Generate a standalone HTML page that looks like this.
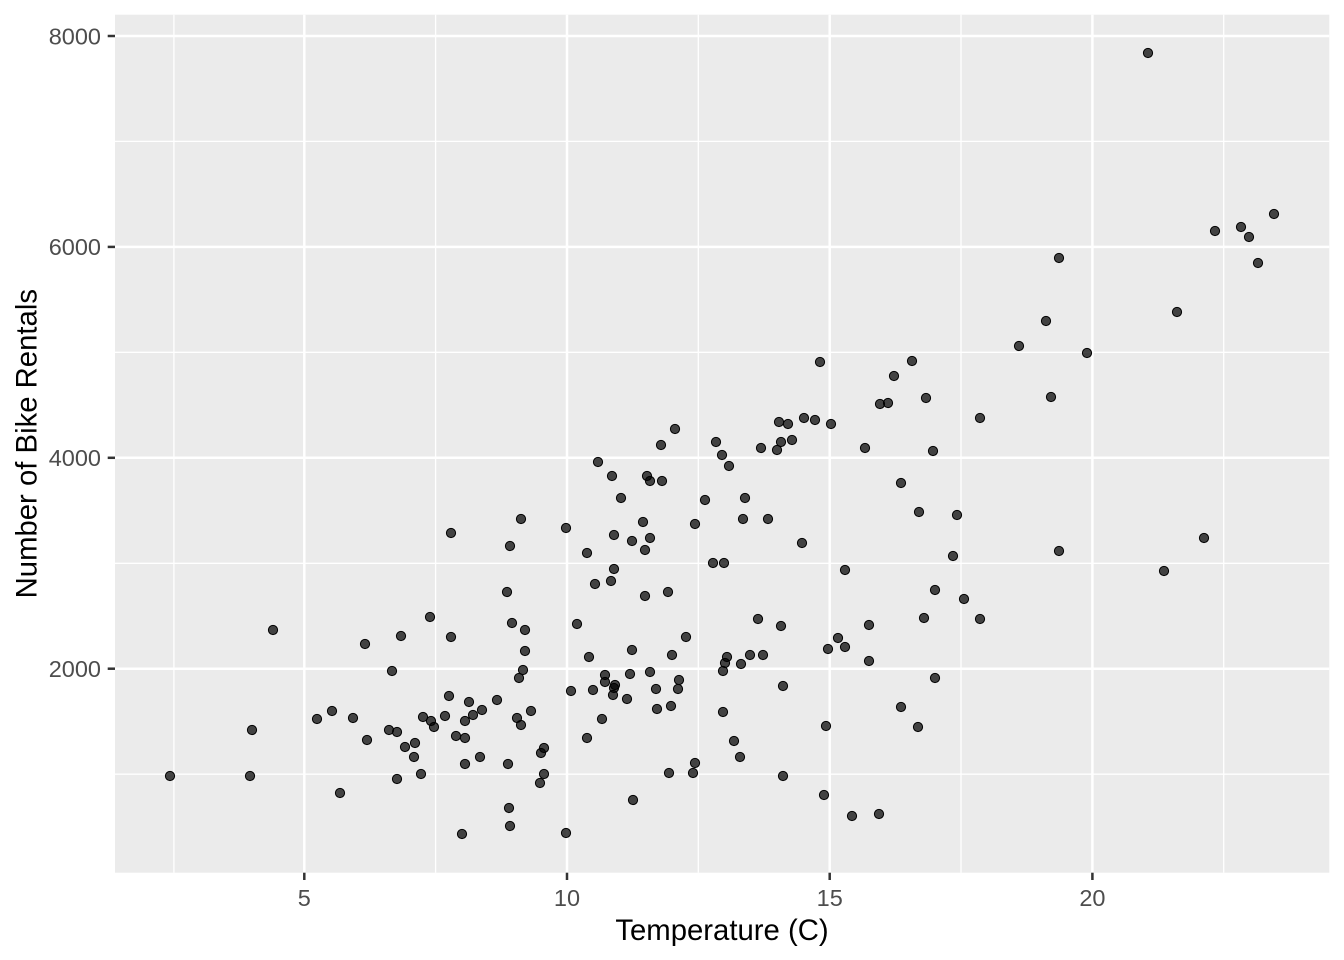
<!DOCTYPE html>
<html>
<head>
<meta charset="utf-8">
<style>
html,body{margin:0;padding:0;background:#fff;}
svg{display:block;}
text{font-family:"Liberation Sans",Arial,sans-serif;}
</style>
</head>
<body>
<svg width="1344" height="960" viewBox="0 0 1344 960" xmlns="http://www.w3.org/2000/svg">
<rect x="0" y="0" width="1344" height="960" fill="#fff"/>
<rect x="115" y="14.7" width="1214.3" height="858" fill="#EBEBEB"/>
<g stroke="#fff" stroke-width="1.3">
<line x1="115" x2="1329.3" y1="774.2" y2="774.2"/>
<line x1="115" x2="1329.3" y1="563.3" y2="563.3"/>
<line x1="115" x2="1329.3" y1="352.3" y2="352.3"/>
<line x1="115" x2="1329.3" y1="141.4" y2="141.4"/>
<line y1="14.7" y2="872.7" x1="173.9" x2="173.9"/>
<line y1="14.7" y2="872.7" x1="435.6" x2="435.6"/>
<line y1="14.7" y2="872.7" x1="698.3" x2="698.3"/>
<line y1="14.7" y2="872.7" x1="961.0" x2="961.0"/>
<line y1="14.7" y2="872.7" x1="1223.7" x2="1223.7"/>
</g>
<g stroke="#fff" stroke-width="2.5">
<line x1="115" x2="1329.3" y1="668.7" y2="668.7"/>
<line x1="115" x2="1329.3" y1="457.8" y2="457.8"/>
<line x1="115" x2="1329.3" y1="246.9" y2="246.9"/>
<line x1="115" x2="1329.3" y1="36.0" y2="36.0"/>
<line y1="14.7" y2="872.7" x1="304.3" x2="304.3"/>
<line y1="14.7" y2="872.7" x1="567.0" x2="567.0"/>
<line y1="14.7" y2="872.7" x1="829.7" x2="829.7"/>
<line y1="14.7" y2="872.7" x1="1092.4" x2="1092.4"/>
</g>
<g fill="#000" fill-opacity="0.72" stroke="#000" stroke-width="1">
<circle cx="273" cy="630" r="4.6"/><circle cx="365" cy="644" r="4.6"/><circle cx="401" cy="636" r="4.6"/><circle cx="430" cy="617" r="4.6"/>
<circle cx="392" cy="671" r="4.6"/><circle cx="332" cy="711" r="4.6"/><circle cx="317" cy="719" r="4.6"/><circle cx="353" cy="718" r="4.6"/>
<circle cx="423" cy="717" r="4.6"/><circle cx="431" cy="721" r="4.6"/><circle cx="434" cy="727" r="4.6"/><circle cx="252" cy="730" r="4.6"/>
<circle cx="389" cy="730" r="4.6"/><circle cx="397" cy="732" r="4.6"/><circle cx="367" cy="740" r="4.6"/><circle cx="415" cy="743" r="4.6"/>
<circle cx="405" cy="747" r="4.6"/><circle cx="414" cy="757" r="4.6"/><circle cx="170" cy="776" r="4.6"/><circle cx="250" cy="776" r="4.6"/>
<circle cx="421" cy="774" r="4.6"/><circle cx="397" cy="779" r="4.6"/><circle cx="340" cy="793" r="4.6"/>
<circle cx="451" cy="637" r="4.6"/><circle cx="525" cy="630" r="4.6"/><circle cx="525" cy="651" r="4.6"/><circle cx="589" cy="657" r="4.6"/>
<circle cx="632" cy="650" r="4.6"/><circle cx="686" cy="637" r="4.6"/><circle cx="672" cy="655" r="4.6"/><circle cx="727" cy="657" r="4.6"/>
<circle cx="725" cy="663" r="4.6"/><circle cx="723" cy="671" r="4.6"/><circle cx="741" cy="664" r="4.6"/>
<circle cx="523" cy="670" r="4.6"/><circle cx="519" cy="678" r="4.6"/><circle cx="605" cy="675" r="4.6"/><circle cx="605" cy="682" r="4.6"/>
<circle cx="615" cy="685" r="4.6"/><circle cx="614" cy="688" r="4.6"/><circle cx="613" cy="695" r="4.6"/><circle cx="630" cy="674" r="4.6"/>
<circle cx="650" cy="672" r="4.6"/><circle cx="679" cy="680" r="4.6"/><circle cx="678" cy="689" r="4.6"/><circle cx="656" cy="689" r="4.6"/>
<circle cx="627" cy="699" r="4.6"/><circle cx="593" cy="690" r="4.6"/><circle cx="571" cy="691" r="4.6"/><circle cx="449" cy="696" r="4.6"/>
<circle cx="469" cy="702" r="4.6"/><circle cx="497" cy="700" r="4.6"/><circle cx="445" cy="716" r="4.6"/><circle cx="465" cy="721" r="4.6"/>
<circle cx="473" cy="715" r="4.6"/><circle cx="482" cy="710" r="4.6"/><circle cx="517" cy="718" r="4.6"/><circle cx="521" cy="725" r="4.6"/>
<circle cx="531" cy="711" r="4.6"/><circle cx="657" cy="709" r="4.6"/><circle cx="671" cy="706" r="4.6"/><circle cx="723" cy="712" r="4.6"/>
<circle cx="602" cy="719" r="4.6"/><circle cx="456" cy="736" r="4.6"/><circle cx="465" cy="738" r="4.6"/><circle cx="587" cy="738" r="4.6"/>
<circle cx="734" cy="741" r="4.6"/><circle cx="544" cy="748" r="4.6"/><circle cx="541" cy="753" r="4.6"/><circle cx="480" cy="757" r="4.6"/>
<circle cx="465" cy="764" r="4.6"/><circle cx="508" cy="764" r="4.6"/><circle cx="740" cy="757" r="4.6"/><circle cx="544" cy="774" r="4.6"/>
<circle cx="540" cy="783" r="4.6"/><circle cx="669" cy="773" r="4.6"/><circle cx="693" cy="773" r="4.6"/><circle cx="695" cy="763" r="4.6"/>
<circle cx="633" cy="800" r="4.6"/><circle cx="509" cy="808" r="4.6"/><circle cx="510" cy="826" r="4.6"/><circle cx="462" cy="834" r="4.6"/>
<circle cx="566" cy="833" r="4.6"/>
<circle cx="675" cy="429" r="4.6"/><circle cx="716" cy="442" r="4.6"/><circle cx="722" cy="455" r="4.6"/><circle cx="729" cy="466" r="4.6"/>
<circle cx="661" cy="445" r="4.6"/><circle cx="598" cy="462" r="4.6"/><circle cx="612" cy="476" r="4.6"/><circle cx="647" cy="476" r="4.6"/>
<circle cx="650" cy="481" r="4.6"/><circle cx="662" cy="481" r="4.6"/><circle cx="705" cy="500" r="4.6"/><circle cx="621" cy="498" r="4.6"/>
<circle cx="521" cy="519" r="4.6"/><circle cx="451" cy="533" r="4.6"/><circle cx="566" cy="528" r="4.6"/><circle cx="643" cy="522" r="4.6"/>
<circle cx="695" cy="524" r="4.6"/><circle cx="743" cy="519" r="4.6"/><circle cx="614" cy="535" r="4.6"/><circle cx="510" cy="546" r="4.6"/>
<circle cx="650" cy="538" r="4.6"/><circle cx="632" cy="541" r="4.6"/><circle cx="645" cy="550" r="4.6"/><circle cx="587" cy="553" r="4.6"/>
<circle cx="713" cy="563" r="4.6"/><circle cx="724" cy="563" r="4.6"/><circle cx="614" cy="569" r="4.6"/><circle cx="595" cy="584" r="4.6"/>
<circle cx="611" cy="581" r="4.6"/><circle cx="507" cy="592" r="4.6"/><circle cx="645" cy="596" r="4.6"/><circle cx="668" cy="592" r="4.6"/>
<circle cx="512" cy="623" r="4.6"/><circle cx="577" cy="624" r="4.6"/>
<circle cx="820" cy="362" r="4.6"/><circle cx="912" cy="361" r="4.6"/><circle cx="894" cy="376" r="4.6"/><circle cx="926" cy="398" r="4.6"/>
<circle cx="880" cy="404" r="4.6"/><circle cx="888" cy="403" r="4.6"/><circle cx="980" cy="418" r="4.6"/><circle cx="779" cy="422" r="4.6"/>
<circle cx="788" cy="424" r="4.6"/><circle cx="804" cy="418" r="4.6"/><circle cx="815" cy="420" r="4.6"/><circle cx="831" cy="424" r="4.6"/>
<circle cx="761" cy="448" r="4.6"/><circle cx="781" cy="442" r="4.6"/><circle cx="792" cy="440" r="4.6"/><circle cx="777" cy="450" r="4.6"/>
<circle cx="865" cy="448" r="4.6"/><circle cx="933" cy="451" r="4.6"/><circle cx="901" cy="483" r="4.6"/><circle cx="745" cy="498" r="4.6"/>
<circle cx="768" cy="519" r="4.6"/><circle cx="919" cy="512" r="4.6"/><circle cx="957" cy="515" r="4.6"/><circle cx="802" cy="543" r="4.6"/>
<circle cx="953" cy="556" r="4.6"/><circle cx="845" cy="570" r="4.6"/>
<circle cx="935" cy="590" r="4.6"/><circle cx="964" cy="599" r="4.6"/><circle cx="980" cy="619" r="4.6"/><circle cx="924" cy="618" r="4.6"/>
<circle cx="869" cy="625" r="4.6"/><circle cx="758" cy="619" r="4.6"/><circle cx="781" cy="626" r="4.6"/><circle cx="838" cy="638" r="4.6"/>
<circle cx="828" cy="649" r="4.6"/><circle cx="845" cy="647" r="4.6"/><circle cx="869" cy="661" r="4.6"/><circle cx="750" cy="655" r="4.6"/>
<circle cx="763" cy="655" r="4.6"/><circle cx="783" cy="686" r="4.6"/><circle cx="935" cy="678" r="4.6"/><circle cx="901" cy="707" r="4.6"/>
<circle cx="918" cy="727" r="4.6"/><circle cx="826" cy="726" r="4.6"/><circle cx="783" cy="776" r="4.6"/><circle cx="824" cy="795" r="4.6"/>
<circle cx="852" cy="816" r="4.6"/><circle cx="879" cy="814" r="4.6"/>
<circle cx="1274" cy="214" r="4.6"/><circle cx="1241" cy="227" r="4.6"/><circle cx="1249" cy="237" r="4.6"/><circle cx="1215" cy="231" r="4.6"/>
<circle cx="1258" cy="263" r="4.6"/><circle cx="1059" cy="258" r="4.6"/><circle cx="1177" cy="312" r="4.6"/><circle cx="1046" cy="321" r="4.6"/>
<circle cx="1019" cy="346" r="4.6"/><circle cx="1087" cy="353" r="4.6"/><circle cx="1051" cy="397" r="4.6"/><circle cx="1059" cy="551" r="4.6"/>
<circle cx="1204" cy="538" r="4.6"/><circle cx="1164" cy="571" r="4.6"/><circle cx="1148" cy="53" r="4.6"/>
</g>
<g stroke="#333" stroke-width="2.5">
<line x1="107.7" x2="115" y1="668.7" y2="668.7"/>
<line x1="107.7" x2="115" y1="457.8" y2="457.8"/>
<line x1="107.7" x2="115" y1="246.9" y2="246.9"/>
<line x1="107.7" x2="115" y1="36.0" y2="36.0"/>
<line y1="872.7" y2="880" x1="304.3" x2="304.3"/>
<line y1="872.7" y2="880" x1="567.0" x2="567.0"/>
<line y1="872.7" y2="880" x1="829.7" x2="829.7"/>
<line y1="872.7" y2="880" x1="1092.4" x2="1092.4"/>
</g>
<g fill="#4D4D4D" font-size="23.5" text-anchor="end">
<text x="101" y="677">2000</text>
<text x="101" y="466">4000</text>
<text x="101" y="255">6000</text>
<text x="101" y="44.5">8000</text>
</g>
<g fill="#4D4D4D" font-size="23.5" text-anchor="middle">
<text x="304.3" y="906">5</text>
<text x="567.0" y="906">10</text>
<text x="829.7" y="906">15</text>
<text x="1092.4" y="906">20</text>
</g>
<text x="722" y="940" font-size="29.3" fill="#000" text-anchor="middle">Temperature (C)</text>
<text x="36.5" y="443.7" font-size="29.3" fill="#000" text-anchor="middle" transform="rotate(-90 36.5 443.7)">Number of Bike Rentals</text>
</svg>
</body>
</html>
